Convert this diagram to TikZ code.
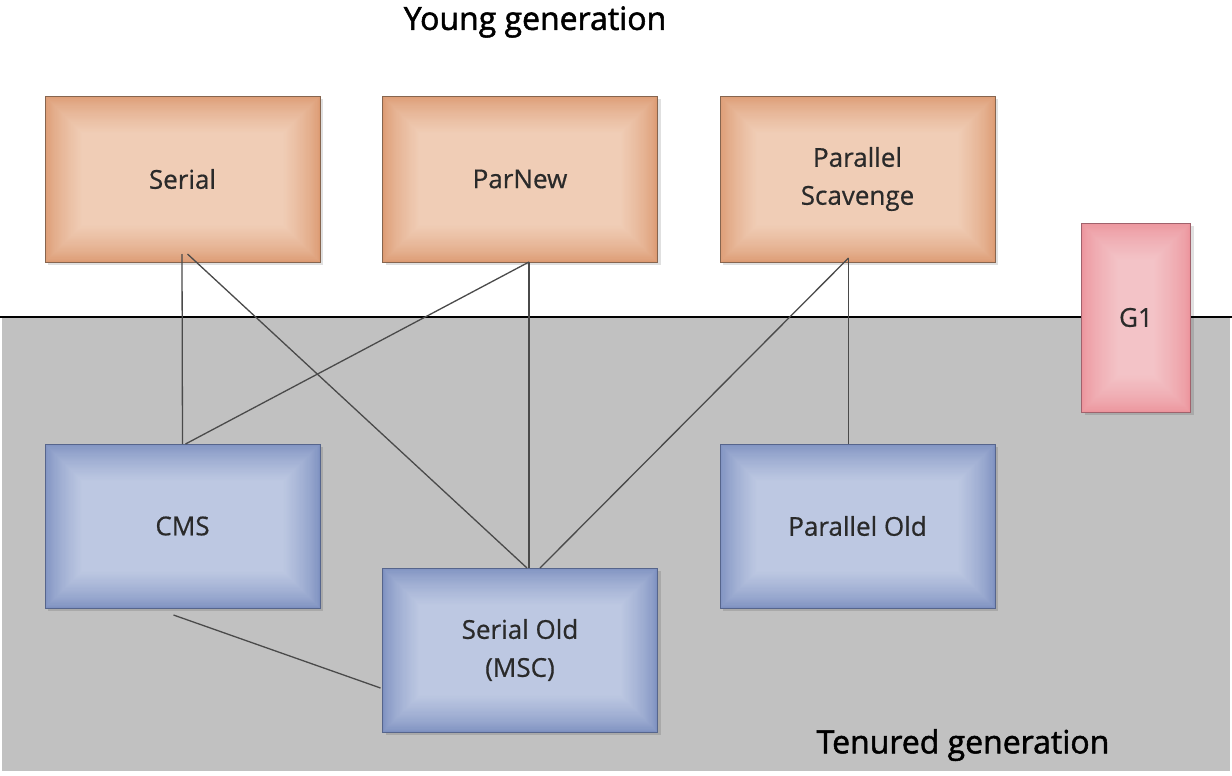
\documentclass[tikz,border=0pt]{standalone}
\usepackage{fontspec}
\setmainfont{Open Sans}[FakeBold=0.6]
\newfontfamily\headfont{Open Sans}[FakeBold=1.6]
\definecolor{bggray}{HTML}{C1C1C1}
\definecolor{orOut}{HTML}{DC9A72}
\definecolor{orIn}{HTML}{F0CDB6}
\definecolor{orBd}{HTML}{86654F}
\definecolor{blOut}{HTML}{7D90C0}
\definecolor{blIn}{HTML}{BDC8E2}
\definecolor{blBd}{HTML}{56658C}
\definecolor{pkOut}{HTML}{EC949C}
\definecolor{pkIn}{HTML}{F3C3C7}
\definecolor{pkBd}{HTML}{A0626C}
\definecolor{txt}{HTML}{2A2A2A}
\definecolor{conn}{HTML}{4A4A4A}
\tikzset{
  boxlbl/.style={inner sep=0pt, outer sep=0pt, line width=0.9pt, align=center,
    text=txt, font=\fontsize{26}{38}\selectfont},
  heading/.style={inner sep=0pt, text=black, font=\headfont\fontsize{32}{40}\selectfont},
  link/.style={draw=conn, line width=1.3pt}
}
\newcommand\gradbox[9]{%
  \fill[black,opacity=0.12] ({#2-#4/2+3},{#3-#5/2+3}) rectangle ({#2+#4/2+3},{#3+#5/2+3});
  \foreach \i in {0,...,32}{%
    \pgfmathsetmacro\p{100*(\i/32)^0.7}%
    \fill[#7!\p!#6] ({#2-#4/2+\i*1.15},{#3-#5/2+\i*1.15}) rectangle ({#2+#4/2-\i*1.15},{#3+#5/2-\i*1.15});
  }
  \node[boxlbl, draw=#8, minimum width=#4pt, minimum height=#5pt] (#1) at (#2,#3) {#9};
}
\begin{document}
\begin{tikzpicture}[x=1pt,y=-1pt]
\useasboundingbox (0,0) rectangle (1232,776);
\fill[white] (0,0) rectangle (1232,776);
% tenured region
\fill[bggray] (2,317) rectangle (1230,771);
\draw[black, line width=1.2pt] (0,317) -- (1232,317);
% headings
\node[heading] (young) at (535,22) {Young generation};
\node[heading] (tenured) at (963,745) {Tenured generation};
% boxes
\gradbox{serial}{182.5}{179}{275}{166}{orOut}{orIn}{orBd}{Serial}
\gradbox{parnew}{520}{179}{275}{166}{orOut}{orIn}{orBd}{ParNew}
\gradbox{pscav}{857.5}{179}{275}{166}{orOut}{orIn}{orBd}{Parallel\\Scavenge}
\gradbox{gone}{1136}{317.5}{109}{189}{pkOut}{pkIn}{pkBd}{G1}
\gradbox{cms}{182.5}{526}{275}{164}{blOut}{blIn}{blBd}{CMS}
\gradbox{serold}{520}{650}{275}{164}{blOut}{blIn}{blBd}{Serial Old\\(MSC)}
\gradbox{parold}{857.5}{526}{275}{164}{blOut}{blIn}{blBd}{Parallel Old}
% connectors
\draw[link] ([xshift=-0.5pt,yshift=8pt]serial.south) -- (cms.north);
\draw[link] ([xshift=5pt,yshift=8pt]serial.south) -- ([xshift=7pt]serold.north);
\draw[link] ([xshift=9pt]parnew.south) -- ([xshift=3pt]cms.north);
\draw[link] ([xshift=9pt]parnew.south) -- ([xshift=9pt]serold.north);
\draw[link] ([xshift=-9pt,yshift=4pt]pscav.south) -- ([xshift=20pt]serold.north);
\draw[link] ([xshift=-9pt,yshift=4pt]pscav.south) -- ([xshift=-9pt]parold.north);
\draw[link] ([xshift=-9pt,yshift=-7pt]cms.south) -- ([xshift=-2pt,yshift=-38pt]serold.west);
\end{tikzpicture}
\end{document}
